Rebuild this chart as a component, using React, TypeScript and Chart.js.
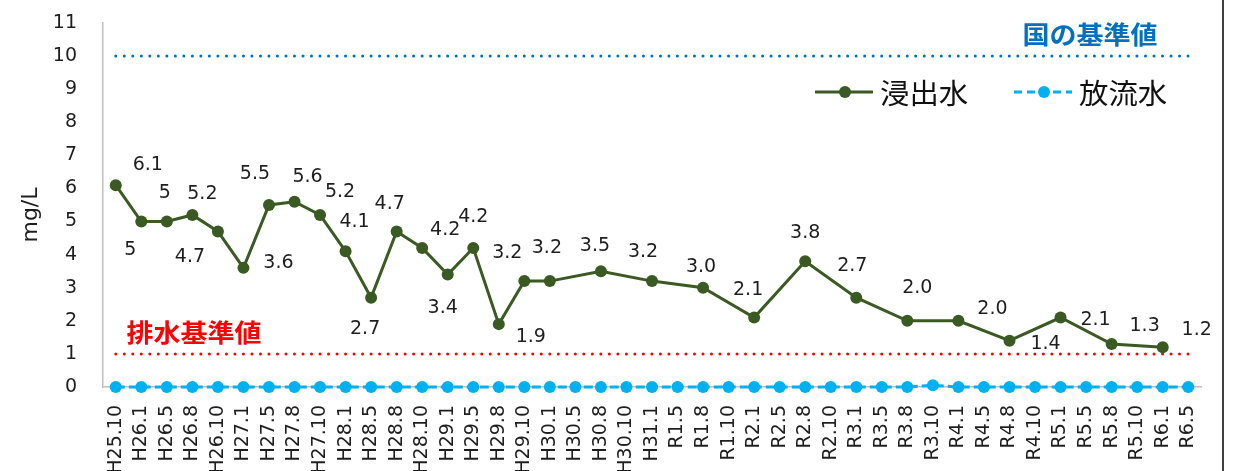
import React, { useEffect, useRef } from "react";
import { Chart, registerables } from "chart.js";

Chart.register(...registerables);

const categories = [
  "H25.10", "H26.1", "H26.5", "H26.8", "H26.10", "H27.1", "H27.5", "H27.8", "H27.10",
  "H28.1", "H28.5", "H28.8", "H28.10", "H29.1", "H29.5", "H29.8", "H29.10", "H30.1",
  "H30.5", "H30.8", "H30.10", "H31.1", "R1.5", "R1.8", "R1.10", "R2.1", "R2.5", "R2.8",
  "R2.10", "R3.1", "R3.5", "R3.8", "R3.10", "R4.1", "R4.5", "R4.8", "R4.10", "R5.1",
  "R5.5", "R5.8", "R5.10", "R6.1", "R6.5",
];

const leachate: (number | null)[] = [
  6.1, 5, 5, 5.2, 4.7, 3.6, 5.5, 5.6, 5.2,
  4.1, 2.7, 4.7, 4.2, 3.4, 4.2, 1.9, 3.2, 3.2,
  null, 3.5, null, 3.2, null, 3.0, null, 2.1, null, 3.8,
  null, 2.7, null, 2.0, null, 2.0, null, 1.4, null, 2.1,
  null, 1.3, null, 1.2, null,
];

const leachateLabels: (string | null)[] = [
  "6.1", "5", "5", "5.2", "4.7", "3.6", "5.5", "5.6", "5.2",
  "4.1", "2.7", "4.7", "4.2", "3.4", "4.2", "1.9", "3.2", "3.2",
  null, "3.5", null, "3.2", null, "3.0", null, "2.1", null, "3.8",
  null, "2.7", null, "2.0", null, "2.0", null, "1.4", null, "2.1",
  null, "1.3", null, "1.2", null,
];

const discharge: number[] = [
  0, 0, 0, 0, 0, 0, 0, 0, 0,
  0, 0, 0, 0, 0, 0, 0, 0, 0,
  0, 0, 0, 0, 0, 0, 0, 0, 0, 0,
  0, 0, 0, 0, 0.05, 0, 0, 0, 0, 0,
  0, 0, 0, 0, 0,
];

const nationalStandard = 10;
const effluentStandard = 1;
const yTicks = [0, 1, 2, 3, 4, 5, 6, 7, 8, 9, 10, 11];

// label offsets (px) relative to each point, for the data labels
const labelOffsets: ([number, number] | null)[] = [
  [32, -21], [-11, 28], [-2, -29], [10, -22], [-28, 25], [35, -6], [-14, -32], [13, -26], [20, -24],
  [9, -30], [-6, 30], [-7, -28], [23, -19], [-5, 33], [0, -32], [32, 12], [-17, -29], [-3, -34],
  null, [-6, -26], null, [-9, -30], null, [-2, -22], null, [-6, -28], null, [0, -29],
  null, [-4, -33], null, [10, -34], null, [34, -13], null, [36, 2], null, [35, 2],
  null, [33, -19], null, [34, -18], null,
];

const GREEN = "#3b5a23";
const CYAN = "#00b0f0";
const BLUE = "#0070c0";
const RED = "#ff0000";
const LATIN = "'DejaVu Sans', sans-serif";
const CJK = "'Noto Sans CJK JP', sans-serif";
const TEXT = "#1e1e1e";

const decorPlugin = {
  id: "decor",
  afterDatasetsDraw(chart: any) {
    const ctx = chart.ctx;
    const meta = chart.getDatasetMeta(0);
    ctx.save();
    // data labels
    ctx.font = `19px ${LATIN}`;
    ctx.fillStyle = TEXT;
    ctx.textAlign = "center";
    ctx.textBaseline = "middle";
    meta.data.forEach((pt: any, i: number) => {
      const t = leachateLabels[i];
      const off = labelOffsets[i];
      if (t == null || off == null || leachate[i] == null) return;
      ctx.fillText(t, pt.x + off[0], pt.y + off[1] + 1);
    });
    const wideText = (t: string, x: number, y: number, sx: number) => {
      ctx.save();
      ctx.translate(x, y);
      ctx.scale(sx, 1);
      ctx.fillText(t, 0, 0);
      ctx.restore();
    };
    // standards text
    ctx.font = `bold 25px ${CJK}`;
    ctx.fillStyle = BLUE;
    wideText("国の基準値", 1090, 34, 1.08);
    ctx.fillStyle = RED;
    wideText("排水基準値", 194, 332, 1.08);
    // y title
    ctx.save();
    ctx.translate(31, 215);
    ctx.rotate(-Math.PI / 2);
    ctx.font = `22px ${LATIN}`;
    ctx.fillStyle = TEXT;
    ctx.fillText("mg/L", 0, 0);
    ctx.restore();
    // legend
    const drawItem = (x: number, y: number, color: string, dash: number[], text: string) => {
      ctx.save();
      ctx.strokeStyle = color;
      ctx.lineWidth = 3;
      ctx.setLineDash(dash);
      ctx.beginPath();
      ctx.moveTo(x, y);
      ctx.lineTo(x + 58, y);
      ctx.stroke();
      ctx.setLineDash([]);
      ctx.fillStyle = color;
      ctx.beginPath();
      ctx.arc(x + 30, y, 6, 0, Math.PI * 2);
      ctx.fill();
      ctx.font = `28px ${CJK}`;
      ctx.fillStyle = "#111";
      ctx.textAlign = "left";
      ctx.translate(x + 65, y + 1);
      ctx.scale(1.05, 1);
      ctx.fillText(text, 0, 0);
      ctx.restore();
    };
    drawItem(815, 92, GREEN, [], chart.data.datasets[0].label);
    drawItem(1014, 92, CYAN, [8, 5], chart.data.datasets[1].label);
    // right frame line
    ctx.strokeStyle = "#000";
    ctx.lineWidth = 1.5;
    ctx.beginPath();
    ctx.moveTo(1223, 0);
    ctx.lineTo(1223, chart.height);
    ctx.stroke();
    ctx.restore();
  },
};

export default function App() {
  const ref = useRef<HTMLCanvasElement | null>(null);
  useEffect(() => {
    document.body.style.margin = "0";
    const canvas = ref.current!;
    const chart = new Chart(canvas, {
      type: "line",
      data: {
        labels: categories,
        datasets: [
          {
            label: "浸出水",
            data: leachate,
            borderColor: GREEN,
            backgroundColor: GREEN,
            borderWidth: 3,
            pointRadius: 6,
            pointBorderWidth: 0,
            pointHoverRadius: 6,
            spanGaps: true,
            tension: 0,
            clip: false,
            order: 1,
          },
          {
            label: "放流水",
            data: discharge,
            borderColor: CYAN,
            backgroundColor: CYAN,
            borderWidth: 3,
            borderDash: [9, 4],
            pointRadius: 6,
            pointBorderWidth: 0,
            spanGaps: true,
            clip: false,
            order: 0,
          },
          {
            label: "国の基準値",
            data: categories.map(() => nationalStandard),
            borderColor: BLUE,
            borderWidth: 3,
            borderDash: [0.01, 8.5],
            borderCapStyle: "round",
            pointRadius: 0,
            clip: false,
            order: 2,
          },
          {
            label: "排水基準値",
            data: categories.map(() => effluentStandard),
            borderColor: RED,
            borderWidth: 3,
            borderDash: [0.01, 8.5],
            borderCapStyle: "round",
            pointRadius: 0,
            clip: false,
            order: 2,
          },
        ],
      } as any,
      options: {
        animation: false,
        responsive: false,
        maintainAspectRatio: false,
        layout: { autoPadding: false, padding: { top: 23, right: 45, left: 0, bottom: 0 } },
        plugins: {
          legend: { display: false },
          tooltip: { enabled: false },
        },
        scales: {
          x: {
            offset: true,
            grid: { display: false, drawTicks: false, offset: true },
            border: { display: true, color: "#bfbfbf", width: 1.5 },
            ticks: {
              autoSkip: false,
              maxRotation: 90,
              minRotation: 90,
              padding: 18,
              color: TEXT,
              font: { family: LATIN, size: 19 },
            },
            afterFit(scale: any) {
              scale.height = 84;
            },
          },
          y: {
            min: 0,
            max: 11,
            grid: { display: false, drawTicks: false },
            border: { display: true, color: "#bfbfbf", width: 1.5 },
            afterBuildTicks(scale: any) {
              scale.ticks = yTicks.map((v) => ({ value: v }));
            },
            ticks: {
              padding: 26,
              color: TEXT,
              font: { family: LATIN, size: 19 },
            },
            afterFit(scale: any) {
              scale.width = 103;
              scale.paddingTop = 0;
              scale.paddingBottom = 0;
            },
          },
        },
      } as any,
      plugins: [decorPlugin],
    });
    return () => chart.destroy();
  }, []);
  return (
    <div style={{ width: 1246, height: 471 }}>
      <canvas ref={ref} width={1246} height={471} style={{ display: "block" }} />
    </div>
  );
}
